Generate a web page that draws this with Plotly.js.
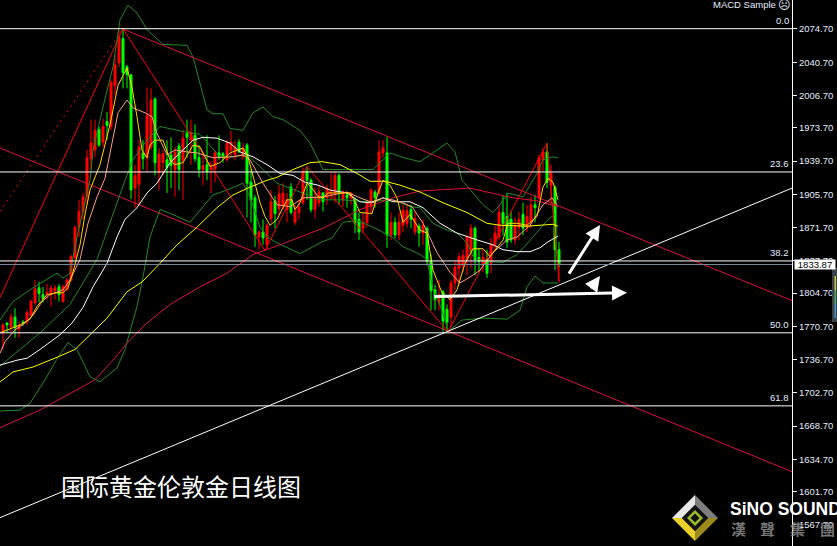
<!DOCTYPE html>
<html><head><meta charset="utf-8">
<script src="https://cdn.plot.ly/plotly-3.0.1.min.js"></script>
<style>html,body{margin:0;padding:0;background:#000}#c{width:837px;height:546px}</style>
</head><body><div id="c"></div>
<script>
const open_ = [1764,1774,1770,1780,1768,1775,1775,1782,1795,1810,1803,1803,1803,1807,1811,1796,1808,1818,1841,1872,1888,1903,1942,1951,1972,1959,1980,1975,2017,2040,2065,2036,2028,1912,1916,1948,1943,1954,2003,1928,1938,1941,1946,1931,1955,1940,1968,1961,1966,1943,1931,1936,1931,1932,1948,1947,1941,1951,1946,1959,1944,1956,1918,1902,1862,1867,1854,1881,1899,1891,1895,1890,1913,1877,1887,1897,1929,1920,1890,1897,1907,1902,1905,1907,1925,1900,1905,1902,1900,1880,1871,1877,1893,1908,1907,1948,1948,1864,1877,1864,1874,1876,1890,1867,1873,1866,1871,1837,1808,1795,1806,1788,1780,1815,1830,1833,1839,1846,1871,1841,1834,1839,1835,1854,1862,1887,1883,1880,1859,1872,1885,1872,1877,1895,1902,1941,1949,1915,1913,1849];
const high_ = [1774,1775,1784,1789,1775,1777,1787,1798,1818,1816,1811,1814,1813,1813,1814,1813,1820,1844,1873,1900,1907,1951,1982,1982,1975,1983,1990,2023,2048,2074,2075,2038,2028,1936,1961,1961,2015,2014,2005,1953,1951,1961,1964,1954,1958,1971,1982,1982,1977,1956,1948,1966,1939,1951,1966,1949,1961,1971,1961,1962,1958,1958,1931,1905,1869,1880,1876,1910,1904,1915,1917,1907,1917,1895,1900,1933,1934,1922,1913,1915,1908,1915,1928,1929,1927,1910,1907,1908,1902,1887,1887,1900,1912,1910,1961,1961,1964,1887,1882,1887,1895,1895,1895,1888,1876,1880,1873,1844,1813,1818,1808,1793,1818,1837,1846,1849,1864,1875,1873,1851,1849,1849,1861,1874,1895,1905,1907,1888,1882,1888,1897,1895,1903,1905,1946,1953,1958,1936,1915,1857];
const low_ = [1747,1764,1765,1759,1759,1771,1772,1781,1793,1795,1795,1798,1791,1798,1796,1795,1807,1816,1839,1862,1880,1895,1931,1944,1954,1954,1961,1971,2007,2036,2014,2014,1901,1892,1895,1931,1929,1951,1925,1910,1925,1907,1912,1903,1910,1900,1943,1936,1939,1923,1915,1920,1907,1918,1941,1938,1939,1944,1941,1948,1941,1882,1877,1852,1849,1854,1849,1877,1871,1885,1890,1877,1885,1874,1880,1895,1900,1887,1881,1893,1888,1895,1900,1897,1895,1893,1892,1895,1866,1859,1866,1872,1885,1892,1905,1943,1851,1859,1861,1859,1867,1871,1871,1864,1852,1854,1833,1787,1787,1787,1765,1767,1770,1808,1813,1826,1823,1830,1823,1826,1826,1820,1825,1849,1859,1864,1851,1856,1854,1859,1864,1867,1871,1877,1900,1929,1912,1895,1828,1831];
const close_ = [1772,1772,1780,1769,1772,1774,1785,1796,1809,1804,1799,1805,1810,1810,1803,1811,1818,1842,1872,1888,1903,1943,1958,1971,1956,1975,1976,2020,2038,2066,2030,2028,1910,1925,1954,1942,1986,2002,1938,1947,1947,1933,1935,1949,1931,1963,1964,1969,1942,1931,1935,1929,1933,1948,1944,1944,1958,1959,1954,1949,1953,1917,1900,1864,1867,1861,1874,1898,1886,1906,1907,1900,1887,1888,1893,1929,1920,1890,1902,1908,1898,1912,1908,1925,1908,1908,1902,1907,1876,1867,1877,1897,1910,1902,1949,1953,1864,1877,1864,1877,1889,1889,1880,1881,1866,1874,1837,1807,1798,1803,1776,1775,1815,1831,1842,1843,1862,1871,1839,1837,1841,1825,1854,1866,1887,1876,1857,1859,1874,1880,1871,1883,1895,1892,1943,1949,1918,1927,1849,1834];
const tailBar = [139], tailOpen = [1834], tailHigh = [1834], tailLow = [1816], tailClose = [1834];

const goldX = [-0.75,1.75,4.25,6.75,8.5,11,13.5,15,16.25,17.5,19.25,20.5,21.75,24.25,26.75,28.75,31,32.25,33.5,34.75,36,36.75,38,40,41.75,43,45,47.5,49.25,51.75,54.25,56.75,60,61.25,64.25,65.5,66.75,68.5,71,72.25,73,74.25,76,77.25,78.75,80,81.25,83.5,86.75,88,89.25,92.25,93.75,95,96.75,98.5,100,101.75,104.25,106,107.5,109.75,111.75,113.5,115.5,117.5,120,121.75,125,126.25,128.5,131,133.5,135,136.25,137.5,138.75];
const goldY = [1764,1768,1772,1778,1791,1803,1805,1805,1810,1826,1854,1885,1910,1936,1977,2017,2035,2015,1985,1951,1943,1956,1961,1961,1941,1936,1938,1956,1954,1934,1938,1948,1953,1944,1897,1883,1874,1880,1900,1900,1890,1897,1917,1912,1903,1902,1907,1907,1907,1898,1887,1886,1907,1920,1915,1902,1877,1885,1869,1866,1828,1805,1798,1808,1835,1850,1850,1842,1859,1876,1876,1874,1883,1913,1922,1918,1900];

const salmonX = [-0.75,0.5,3,5.5,7.5,9.75,11.75,15,16.75,19.25,21.25,23.5,25.5,27.25,28.75,31,32.5,35.5,37.25,38.5,41,43,46,48.5,52.5,57.5,60,61.75,65,68.5,71.75,75,80,86,89.25,92.5,95,99.25,102.25,105,108.5,111.75,114.25,116.75,119.25,122.5,126,128.5,131.75,135,137.25,138.5];
const salmonY = [1743,1755,1767,1774,1782,1796,1803,1808,1818,1839,1876,1903,1922,1958,1989,2002,1994,1989,1985,1968,1946,1951,1949,1948,1943,1944,1946,1941,1917,1895,1893,1902,1903,1908,1902,1897,1902,1898,1893,1876,1846,1826,1815,1821,1828,1846,1859,1862,1874,1895,1902,1895];

const whiteX = [-0.75,3.5,6,9.25,14.25,17.25,20,22.5,26,28.5,30.5,33.5,36,38.5,41.75,45,47.5,50,53.5,56.75,59.25,62.5,66,69.25,72.5,75.5,78.75,81.75,86,89.25,91.75,95,97.5,101.75,105,109.25,113.5,118.5,122.5,125,128.5,131.75,134.25,136.25,138.75];
const whiteY = [1731,1736,1738,1747,1762,1774,1790,1811,1835,1862,1880,1892,1907,1917,1938,1951,1961,1964,1963,1958,1949,1944,1936,1927,1925,1918,1915,1910,1907,1898,1897,1902,1898,1898,1892,1876,1866,1859,1854,1849,1847,1847,1851,1857,1863];

const yellowX = [-0.75,0,2.5,7.5,13.5,18,22.25,26,31,34.75,39.25,43.5,48.5,53.5,57.5,61.75,66,68.5,72.5,76.75,79.75,84.25,88.5,91.75,95.5,99.25,104.25,110,116,121,124.25,131,137.5,138.75];
const yellowY = [1714,1716,1724,1729,1739,1747,1764,1779,1806,1816,1835,1854,1872,1892,1905,1913,1920,1923,1931,1938,1939,1936,1927,1919,1919,1915,1908,1897,1887,1876,1874,1873,1875,1873];

const crimsonX = [-0.75,9.25,23,27.5,31.75,36,41.75,49.25,56,62.5,69.25,80,89.25,97.5,104.25,116.75,121,127.5,133.5,138.75];
const crimsonY = [1667,1685,1716,1736,1757,1774,1793,1811,1825,1844,1854,1871,1890,1902,1909,1912,1908,1902,1899,1893];

const upperX = [-0.75,2.5,7.5,13.5,15,16.75,18.5,21.75,22.5,25,27.5,29.25,31.25,33.5,36,40,46,47.5,51,52.5,55,56.75,60,62.5,65,67.5,70,74.25,76.75,80,84.25,88.5,92.5,96.75,100.25,104.25,108.5,111,113,114.75,117.5,120,122.5,124.25,126.25,130,133.5,135,137.25,138.75];
const upperY = [1777,1796,1810,1825,1820,1825,1862,1920,1951,1995,2036,2084,2099,2091,2074,2059,2058,2046,1992,1988,1988,1973,1971,1989,1995,1985,1982,1971,1958,1931,1931,1931,1931,1948,1943,1939,1951,1958,1949,1920,1907,1895,1887,1895,1907,1903,1927,1941,1944,1943];

const midX = [-0.75,4.25,9.25,16.75,23.5,30.5,32.5,36,39.25,46,49.25,54.25,57.5,61,64.25,68.5,74.25,79.25,85,91,97.5,101.75,104.25,107.5,111,113.5,116,117.5,120,125,128.5,132.5,136.25,138];
const midY = [1730,1747,1764,1793,1839,1920,1941,1961,1975,1969,1967,1944,1944,1946,1934,1917,1908,1900,1900,1898,1900,1893,1892,1876,1869,1866,1856,1842,1837,1836,1844,1862,1880,1885];

const lowerX = [-0.75,4.25,6.75,10.5,13.75,16.25,18.5,21.75,24.25,28.5,30.5,33.5,35,36.75,39.25,42.5,46.75,50,52.5,56,60,61.75,64.25,66,68.5,74.25,79.75,82.25,85,88.5,92.5,97.25,100,101.75,104.25,106,107.5,108.75,110.5,111.25,114.75,120,126,129.25,131,133,135,138.75];
const lowerY = [1684,1685,1692,1716,1739,1754,1747,1719,1714,1728,1747,1791,1821,1862,1890,1885,1877,1893,1905,1910,1917,1903,1872,1862,1856,1845,1857,1861,1877,1879,1872,1862,1852,1849,1844,1839,1808,1798,1777,1765,1777,1779,1778,1787,1811,1822,1815,1815];

const zigX = [30,65.5,76,111.25,136,139];
const zigY = [2075,1848,1934,1765,1958,1816];
const riseX = [-0.75,30], riseY = [1800,2075];
const dotX = [-0.75,30], dotY = [1888,2075];
const chanUpX = [29.75,197.25], chanUpY = [2075,1797];
const chanLoX = [-0.75,197.25], chanLoY = [1953,1622];
const trendX = [-0.75,197.25], trendY = [1575,1912];

const fibLevels = [2075,1928.5,1837.5,1764,1689.3];
const fibNames = ['0.0','23.6','38.2','50.0','61.8'];
const bid = 1833.87;
const edges = [-0.75,197.25];
const tickVals = [2074.70,2040.70,2006.70,1973.70,1939.70,1905.70,1871.70,1837.70,1804.70,1770.70,1736.70,1702.70,1668.70,1634.70,1601.70,1567.70];
const tickText = tickVals.map(v => v.toFixed(2));

const bars = open_.map((_, i) => i);
const RED='#ff0000', GRN='#00ff00', CRIM='#dc143c', BAND='#228b22';
const ln = (x,y,color,dash) => ({type:'scatter',mode:'lines',x,y,hoverinfo:'skip',showlegend:false,line:{color,width:1,dash:dash||'solid',simplify:false}});
const candleStyle = (up,dn) => ({increasing:{line:{color:up,width:1},fillcolor:up},decreasing:{line:{color:dn,width:1},fillcolor:dn}});

const data = [
  ln(riseX,riseY,RED), ln(dotX,dotY,RED,'2px 4px'),
  ln(chanLoX,chanLoY,CRIM),
  Object.assign({type:'candlestick',x:bars,open:open_,high:high_,low:low_,close:close_,whiskerwidth:0,hoverinfo:'skip',showlegend:false},candleStyle(RED,GRN)),
  Object.assign({type:'candlestick',x:tailBar,open:tailOpen,high:tailHigh,low:tailLow,close:tailClose,whiskerwidth:0,hoverinfo:'skip',showlegend:false},candleStyle(RED,RED)),
  ln(upperX,upperY,BAND), ln(midX,midY,BAND), ln(lowerX,lowerY,BAND),
  ln(crimsonX,crimsonY,CRIM), ln(chanUpX,chanUpY,CRIM),
  ln(zigX,zigY,RED),
  ln(yellowX,yellowY,'#ffff00'), ln(whiteX,whiteY,'#ffffff'),
  ln(salmonX,salmonY,'#ffa07a'), ln(goldX,goldY,'#ffd700'),
  ln(trendX,trendY,'#ffffff'),
  ln(edges,[bid,bid],'#778899')
];
fibLevels.forEach(v => data.push(ln(edges,[v,v],'#ffffff')));

const PW = 792, PH = 546;
const px = x => x/PW, py = y => 1-y/PH;
const LC = '#e4eeff', FONT = '"Liberation Sans",Arial,sans-serif';

const annotations = fibNames.map((t,i)=>({xref:'paper',yref:'y',x:1,y:fibLevels[i],text:t,showarrow:false,xanchor:'right',yanchor:'bottom',xshift:-1,yshift:1,font:{family:FONT,size:9.5,color:LC}}));
const arrow = (tx,ty,ax,ay,w) => ({xref:'x',yref:'y',axref:'x',ayref:'y',x:tx,y:ty,ax,ay,text:'',showarrow:true,arrowhead:2,arrowsize:1,arrowwidth:w,arrowcolor:'#ffffff'});
annotations.push(arrow(149.25,1874.3,141.25,1823,3));
annotations.push(arrow(149.25,1822,146.75,1808,3));
annotations.push(arrow(156,1805,107.5,1801,3));
const txt = (x,y,t,size,color,family,anchor,bold) => ({xref:'paper',yref:'paper',x:px(x),y:py(y),text:bold?'<b>'+t+'</b>':t,showarrow:false,xanchor:anchor||'left',yanchor:'middle',font:{family,size,color}});
annotations.push(txt(711,5,'MACD Sample',9.5,LC,FONT));
annotations.push(txt(776,5,'☹',12,LC,'"DejaVu Sans"'));
annotations.push(txt(59,486,'国际黄金伦敦金日线图',24,'#ffffff','"Noto Sans CJK SC"'));
annotations.push(txt(728,509,'SiNO SOUND',17.5,'#ffffff',FONT,'left',true));
[['漢',729],['聲',758],['集',788],['團',818]].forEach(a=>annotations.push(Object.assign(txt(a[1],528,a[0],15,'rgba(140,140,140,0.85)','"Noto Sans CJK TC"','left',true))));
annotations.push({xref:'paper',yref:'y',x:px(794),y:bid,text:'1833.87',showarrow:false,xanchor:'left',yanchor:'middle',bgcolor:'#ffffff',width:40,height:9,borderpad:0,font:{family:FONT,size:9.5,color:'#000000'}});

const poly = (pts,fill) => ({type:'path',xref:'paper',yref:'paper',layer:'above',line:{width:0},fillcolor:fill,path:'M'+pts.map(p=>px(p[0])+','+py(p[1])).join('L')+'Z'});
const cx=695, cy=518;
const dia = (r,fill) => poly([[cx,cy-r],[cx+r,cy],[cx,cy+r],[cx-r,cy]],fill);
const shapes = [
  poly([[cx-23,cy],[cx,cy-23],[cx,cy-13],[cx-13,cy]],'#e6e6e6'),
  poly([[cx,cy-23],[cx+23,cy],[cx+13,cy],[cx,cy-13]],'#7d7d7d'),
  poly([[cx-23,cy],[cx,cy+23],[cx,cy+13],[cx-13,cy]],'#e8cf2a'),
  poly([[cx,cy+23],[cx+23,cy],[cx+13,cy],[cx,cy+13]],'#9c8a1c'),
  dia(13,'#111111'),
  dia(8,'#9dbb2c'),
  dia(4.5,'#111111'),
  {type:'rect',xref:'paper',yref:'paper',layer:'above',x0:px(832),x1:px(837),y0:py(268),y1:py(322),fillcolor:'#3c4349',line:{width:0}},
  {type:'rect',xref:'paper',yref:'paper',layer:'above',x0:px(834.5),x1:px(836),y0:py(276),y1:py(290),fillcolor:'#c8c050',line:{width:0}},
  {type:'rect',xref:'paper',yref:'paper',layer:'above',x0:px(834.5),x1:px(836),y0:py(290),y1:py(304),fillcolor:'#4fa86a',line:{width:0}},
  {type:'rect',xref:'paper',yref:'paper',layer:'above',x0:px(834.5),x1:px(836),y0:py(304),y1:py(318),fillcolor:'#4a90c0',line:{width:0}}
];

const layout = {
  width:837,height:546,paper_bgcolor:'#000000',plot_bgcolor:'#000000',
  margin:{l:0,r:45,t:0,b:0,pad:0},showlegend:false,boxgap:0.5,boxgroupgap:0,boxmode:'overlay',dragmode:false,
  xaxis:{range:edges,visible:false,fixedrange:true,rangeslider:{visible:false}},
  yaxis:{range:[1546.0,2104.35],side:'right',showgrid:false,zeroline:false,showline:true,linecolor:'#ffffff',linewidth:1,
    ticks:'outside',ticklen:4,tickwidth:1,tickcolor:'#ffffff',tickmode:'array',tickvals:tickVals,ticktext:tickText,
    tickfont:{family:FONT,size:9.5,color:LC},fixedrange:true},
  shapes,annotations
};
Plotly.newPlot('c',data,layout,{displayModeBar:false,staticPlot:true});
</script></body></html>
